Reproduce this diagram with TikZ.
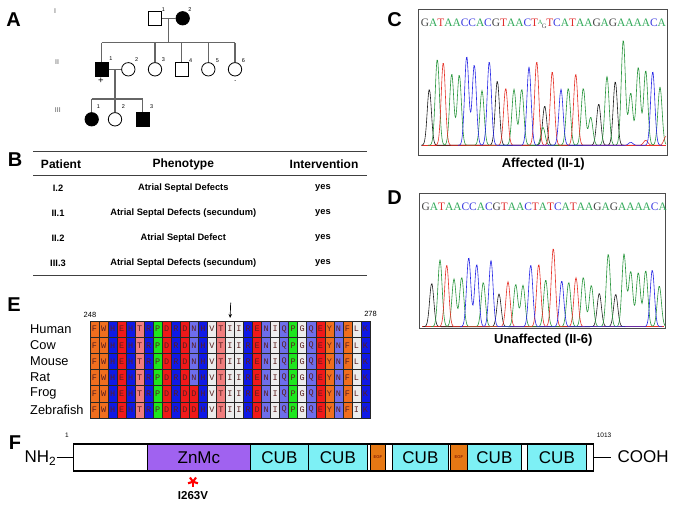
\documentclass[tikz,border=0pt]{standalone}
\usepackage{fontspec}
\setmainfont{Liberation Sans}
\newfontfamily\seqfont{Liberation Serif}
\newfontfamily\aafont{Liberation Mono}
\usetikzlibrary{arrows.meta}
\newcommand\myfs[1]{\fontsize{#1}{#1}\selectfont}
% amino-acid colours
\definecolor{aaorange}{RGB}{240,110,30}
\definecolor{aablue}{RGB}{15,25,230}
\definecolor{aared}{RGB}{240,25,25}
\definecolor{aasalmon}{RGB}{240,125,125}
\definecolor{aagreen}{RGB}{30,230,30}
\definecolor{aaperi}{RGB}{110,110,235}
\definecolor{aawhite}{RGB}{236,236,236}
\colorlet{aaF}{aaorange}\colorlet{aaW}{aaorange}\colorlet{aaY}{aaorange}
\colorlet{aaH}{aablue}\colorlet{aaR}{aablue}\colorlet{aaK}{aablue}
\colorlet{aaE}{aared}\colorlet{aaD}{aared}
\colorlet{aaT}{aasalmon}
\colorlet{aaP}{aagreen}
\colorlet{aaN}{aaperi}\colorlet{aaQ}{aaperi}
\colorlet{aaV}{aawhite}\colorlet{aaI}{aawhite}\colorlet{aaL}{aawhite}\colorlet{aaG}{aawhite}
\definecolor{aatext}{RGB}{90,30,30}
% sequence colours
\definecolor{seqA}{RGB}{50,170,90}
\definecolor{seqT}{RGB}{225,45,45}
\definecolor{seqC}{RGB}{60,60,225}
\definecolor{seqG}{RGB}{70,70,70}
\definecolor{trG}{RGB}{40,150,60}
\definecolor{trR}{RGB}{230,50,40}
\definecolor{trB}{RGB}{40,40,230}
\definecolor{trK}{RGB}{30,30,30}
\newcommand\ntA{\textcolor{seqA}{A}}
\newcommand\ntT{\textcolor{seqT}{T}}
\newcommand\ntC{\textcolor{seqC}{C}}
\newcommand\ntG{\textcolor{seqG}{G}}
\newcommand\ntmix{\makebox[8.2pt][c]{\raisebox{2.6pt}{\myfs{6.5}\textcolor{seqA}{A}}\kern-0.6pt\raisebox{-1.6pt}{\myfs{6.5}\textcolor{seqG}{G}}}}
% domain colours
\definecolor{znmc}{RGB}{160,98,240}
\definecolor{cub}{RGB}{125,240,245}
\definecolor{egf}{RGB}{230,120,20}
\begin{document}
\begin{tikzpicture}[x=1pt,y=-1pt,
  declare function={pk(\t,\c,\h)=\h*exp(-pow(min(abs(\t-\c),12),2)/8.8);},
  panel/.style={font=\myfs{20}\bfseries, inner sep=0},
  ped/.style={draw=black, line width=0.8pt, inner sep=0, fill=white},
  sq/.style={ped, rectangle, minimum size=13.3},
  ci/.style={ped, circle, minimum size=13.4},
  aff/.style={fill=black},
  pline/.style={draw=black!60, line width=1.1pt},
  plab/.style={font=\myfs{5.5}, inner sep=0},
  gen/.style={font=\myfs{7}, inner sep=0, text=black!65},
  rule/.style={draw=black!75, line width=0.9pt},
  thead/.style={font=\myfs{12}\bfseries, inner sep=0},
  tcell/.style={font=\myfs{9.3}\bfseries, inner sep=0},
  chrom/.style={draw=black!70, line width=0.9pt, inner sep=0, fill=white},
  trace/.style={line width=0.6pt},
  caption/.style={font=\myfs{13}\bfseries, inner sep=0},
  species/.style={font=\myfs{12.8}, inner sep=0, anchor=west},
  cell/.style={draw=black!85, line width=0.6pt, inner sep=0, minimum width=9.032, minimum height=16.17, font=\aafont\myfs{8.5}, text=aatext},
  poslab/.style={font=\myfs{7.5}, inner sep=0},
  dom/.style={draw=black, line width=0.8pt, inner sep=0, minimum height=27, anchor=west, font=\myfs{17}},
  egfbox/.style={dom, fill=egf, font=\myfs{4.2}, text=black!60!red}
]
\useasboundingbox (0,0) rectangle (676,505);
\fill[white] (0,0) rectangle (676,505);

% ================= Panel A: pedigree =================
\node[panel] (labA) at (13.5,20) {A};
\node[gen] (genI) at (55,11) {I};
\node[gen] (genII) at (57,62) {II};
\node[gen] (genIII) at (57.8,110) {III};

\coordinate (m1) at (168.3,18.3);
\coordinate (s1) at (168.3,42.7);
\coordinate (s1L) at (101.7,42.7);
\coordinate (s1R) at (235,42.7);
\coordinate (m2) at (115,69.3);
\coordinate (s2) at (115,99);
\coordinate (s2L) at (91.7,99);
\coordinate (s2R) at (142.7,99);

\node[sq] (I1) at (155,18.3) {};
\node[ci,aff] (I2) at (182.7,18.3) {};
\node[sq,aff] (II1) at (101.7,69.3) {};
\node[ci] (II2) at (128.3,69.3) {};
\node[ci] (II3) at (155,69.3) {};
\node[sq] (II4) at (181.7,69.3) {};
\node[ci] (II5) at (208.3,69.3) {};
\node[ci] (II6) at (235,69.3) {};
\node[ci,aff] (III1) at (91.7,119.3) {};
\node[ci] (III2) at (115,119.3) {};
\node[sq,aff] (III3) at (142.7,119.3) {};

\draw[pline] (I1.east) -- (I2.west);
\draw[pline] (m1) -- (s1);
\draw[pline] (s1L) -- (s1R);
\draw[pline] (s1L) -- (II1.north);
\draw[pline] (II3.north |- s1L) -- (II3.north);
\draw[pline] (II4.north |- s1L) -- (II4.north);
\draw[pline] (II5.north |- s1L) -- (II5.north);
\draw[pline] (s1R) -- (II6.north);
\draw[pline] (II1.east) -- (II2.west);
\draw[pline] (m2) -- (s2);
\draw[pline] (s2L) -- (s2R);
\draw[pline] (s2L) -- (III1.north);
\draw[pline] (s2) -- (III2.north);
\draw[pline] (s2R) -- (III3.north);

\node[plab] (nI1) at (163.3,10) {1};
\node[plab] (nI2) at (190,9.3) {2};
\node[plab] (nII1) at (111,58.5) {1};
\node[plab] (nII2) at (136.7,60) {2};
\node[plab] (nII3) at (163.3,60) {3};
\node[plab] (nII4) at (190.7,60.5) {4};
\node[plab] (nII5) at (217.3,60.5) {5};
\node[plab] (nII6) at (243.3,60.5) {6};
\node[plab] (nIII1) at (98.5,106.5) {1};
\node[plab] (nIII2) at (123.3,106.5) {2};
\node[plab] (nIII3) at (151.7,106.5) {3};
\node[font=\myfs{9.5}, inner sep=0] (plus) at (101,80.7) {+};
\node[font=\myfs{6}, inner sep=0] (minus) at (235.3,81.5) {-};

% ================= Panel B: table =================
\node[panel] (labB) at (15,159.5) {B};
\draw[rule] (33,151) -- (367,151);
\draw[rule] (33,175) -- (367,175);
\draw[rule] (33,275) -- (367,275);
\node[thead] (hP) at (61,164) {Patient};
\node[thead] (hPh) at (183.3,164) {Phenotype};
\node[thead] (hI) at (324,164) {Intervention};
\node[tcell] (p1) at (58,188.3) {I.2};
\node[tcell] (f1) at (183.3,188.3) {Atrial Septal Defects};
\node[tcell] (y1) at (323,188.3) {yes};
\node[tcell] (p2) at (58,213) {II.1};
\node[tcell] (f2) at (183.3,213) {Atrial Septal Defects (secundum)};
\node[tcell] (y2) at (323,213) {yes};
\node[tcell] (p3) at (58,238) {II.2};
\node[tcell] (f3) at (183.3,238) {Atrial Septal Defect};
\node[tcell] (y3) at (323,238) {yes};
\node[tcell] (p4) at (58,263) {III.3};
\node[tcell] (f4) at (183.3,263) {Atrial Septal Defects (secundum)};
\node[tcell] (y4) at (323,263) {yes};

% ================= Panel C =================
\node[panel] (labC) at (394.5,19.5) {C};
\node[chrom, minimum width=249, minimum height=145.7] (boxC) at (542.8,82.15) {};
\node[font=\seqfont\myfs{11.4}, inner sep=0, anchor=base west] (seqC) at (420.7,26.7)
 {\ntG\ntA\ntT\ntA\ntA\ntC\ntC\ntA\ntC\ntG\ntT\ntA\ntA\ntC\ntT\ntmix\ntT\ntC\ntA\ntT\ntA\ntA\ntG\ntA\ntG\ntA\ntA\ntA\ntA\ntC\ntA};
\draw[trace, trR] (422,145.3) -- (666,145.3);
\draw[trace, trK] plot[smooth, domain=421:624, samples=204]
 (\x,{145.3-(pk(\x,429.3,56)+pk(\x,497.3,64.3)+pk(\x,544.7,39.3)+pk(\x,598.7,41.3)+pk(\x,615.3,63.7))});
\draw[trace, trG] plot[smooth, domain=428:666, samples=239]
 (\x,{145.3-(pk(\x,437.3,86)+pk(\x,451.7,71.3)+pk(\x,459.3,70.3)+pk(\x,482,54.7)+pk(\x,514,56)+pk(\x,521.7,56)+pk(\x,543,18)+pk(\x,568.3,57)+pk(\x,583.3,57)+pk(\x,590.7,28)+pk(\x,607,68.7)+pk(\x,623.3,105.3)+pk(\x,630.7,52)+pk(\x,638.3,78)+pk(\x,645.7,74.7)+pk(\x,660,58))});
\draw[trace, trR] plot[smooth, domain=434:666, samples=233]
 (\x,{145.3-(pk(\x,443.3,82.7)+pk(\x,505.7,57)+pk(\x,536.7,83.7)+pk(\x,552.3,73.7)+pk(\x,575.7,71.3)+pk(\x,645.7,5)+pk(\x,666,9))});
\draw[trace, trB] plot[smooth, domain=458:662, samples=205]
 (\x,{145.3-(pk(\x,466.7,88.7)+pk(\x,474.3,80.3)+pk(\x,489.3,83.7)+pk(\x,529,78)+pk(\x,561,56)+pk(\x,630.7,3)+pk(\x,652.7,73.7))});
\node[caption] (capC) at (543.3,163.8) {Affected (II-1)};

% ================= Panel D =================
\node[panel] (labD) at (394.5,197.5) {D};
\node[chrom, minimum width=245.7, minimum height=135] (boxD) at (542.15,260.8) {};
\node[font=\seqfont\myfs{11.4}, inner sep=0, anchor=base west] (seqD) at (421.5,210.7)
 {\ntG\ntA\ntT\ntA\ntA\ntC\ntC\ntA\ntC\ntG\ntT\ntA\ntA\ntC\ntT\ntA\ntT\ntC\ntA\ntT\ntA\ntA\ntG\ntA\ntG\ntA\ntA\ntA\ntA\ntC\ntA};
\draw[trace, trR] (422,326.7) -- (664,326.7);
\draw[trace, trK] plot[smooth, domain=423:625, samples=203]
 (\x,{326.7-(pk(\x,431.7,43.3)+pk(\x,499,32.7)+pk(\x,599.3,33.3)+pk(\x,615.7,32.3))});
\draw[trace, trG] plot[smooth, domain=431:665, samples=235]
 (\x,{326.7-(pk(\x,440,66.7)+pk(\x,454,47.7)+pk(\x,461.7,49.3)+pk(\x,483.3,44.3)+pk(\x,515.7,42.3)+pk(\x,523,41.3)+pk(\x,545.7,46.7)+pk(\x,568.7,44.3)+pk(\x,583.3,49.3)+pk(\x,591.3,41.3)+pk(\x,608.3,72.7)+pk(\x,624,72.3)+pk(\x,630.7,55)+pk(\x,638.3,54)+pk(\x,645.7,56)+pk(\x,659.3,40.7))});
\draw[trace, trR] plot[smooth, domain=438:585, samples=148]
 (\x,{326.7-(pk(\x,446.7,61.7)+pk(\x,508,45)+pk(\x,538.7,62.3)+pk(\x,553.3,78.3)+pk(\x,576,49))});
\draw[trace, trB] plot[smooth, domain=460:662, samples=203]
 (\x,{326.7-(pk(\x,468.7,69)+pk(\x,476.7,62.3)+pk(\x,491,66)+pk(\x,530.7,61.7)+pk(\x,561.7,45.7)+pk(\x,652.3,56.7))});
\node[caption] (capD) at (543.3,340.5) {Unaffected (II-6)};

% ================= Panel E: alignment =================
\node[panel] (labE) at (14,305) {E};
\node[species] (spHuman) at (30,329.1) {Human};
\node[species] (spCow) at (30,345.3) {Cow};
\node[species] (spMouse) at (30,361.4) {Mouse};
\node[species] (spRat) at (30,377.6) {Rat};
\node[species] (spFrog) at (30,393.8) {Frog};
\node[species] (spFish) at (30,409.9) {Zebrafish};
\foreach \seqrow [count=\r] in {
 {F,W,H,E,H,T,R,P,D,R,D,N,H,V,T,I,I,R,E,N,I,Q,P,G,Q,E,Y,N,F,L,K},
 {F,W,H,E,H,T,R,P,D,R,D,N,H,V,T,I,I,R,E,N,I,Q,P,G,Q,E,Y,N,F,L,K},
 {F,W,H,E,H,T,R,P,D,R,D,N,H,V,T,I,I,R,E,N,I,Q,P,G,Q,E,Y,N,F,L,K},
 {F,W,H,E,H,T,R,P,D,R,D,N,H,V,T,I,I,R,E,N,I,Q,P,G,Q,E,Y,N,F,L,K},
 {F,W,H,E,H,T,R,P,D,R,D,D,H,V,T,I,I,R,E,N,I,Q,P,G,Q,E,Y,N,F,L,K},
 {F,W,H,E,H,T,R,P,D,R,D,D,H,V,T,I,I,R,D,N,I,Q,P,G,Q,E,Y,N,F,I,K}} {
  \foreach \aa [count=\c] in \seqrow {
    \node[cell, fill=aa\aa] (aa\r-\c) at ({90+(\c-0.5)*9.032},{321+(\r-0.5)*16.17}) {\aa};
  }
}
\node[poslab] (p248) at (90,314.5) {248};
\node[poslab] (p278) at (370.5,313.7) {278};
\coordinate (arrTop) at (230.7,302.7);
\draw[-{Stealth[length=4pt,width=3.5pt]}, line width=0.7pt, shorten >=2.7pt] (arrTop) -- (aa1-16.north);

% ================= Panel F: domains =================
\node[panel] (labF) at (15,443) {F};
\node[dom, fill=white, minimum width=74] (dN) at (73,457.5) {};
\node[dom, fill=znmc, minimum width=103] (dZn) at (147,457.5) {ZnMc};
\node[dom, fill=cub, minimum width=58] (dC1) at (250,457.5) {CUB};
\node[dom, fill=cub, minimum width=59] (dC2) at (308,457.5) {CUB};
\node[dom, fill=white, minimum width=3] (g1) at (367,457.5) {};
\node[egfbox, minimum width=15] (e1) at (370,457.5) {EGF};
\node[dom, fill=white, minimum width=7] (g2) at (385,457.5) {};
\node[dom, fill=cub, minimum width=56] (dC3) at (392,457.5) {CUB};
\node[dom, fill=white, minimum width=2] (g3) at (448,457.5) {};
\node[egfbox, minimum width=17] (e2) at (450,457.5) {EGF};
\node[dom, fill=cub, minimum width=54] (dC4) at (467,457.5) {CUB};
\node[dom, fill=white, minimum width=6] (g4) at (521,457.5) {};
\node[dom, fill=cub, minimum width=59] (dC5) at (527,457.5) {CUB};
\node[dom, fill=white, minimum width=7] (g5) at (586,457.5) {};
\node[draw=black, line width=1.4pt, minimum width=520, minimum height=27, inner sep=0, anchor=west] (protein) at (73,457.5) {};
\node[font=\myfs{17}, inner sep=0, anchor=base east] (nh2) at (56.5,462.7) {NH\textsubscript{2}};
\node[font=\myfs{17}, inner sep=0, anchor=base west] (cooh) at (617.5,462.7) {COOH};
\draw[line width=1.1pt] (protein.west -| nh2.east) -- (protein.west);
\draw[line width=1.1pt, shorten >=6.5pt] (protein.east) -- (protein.east -| cooh.west);
\node[poslab, font=\myfs{6.5}] (n1) at (67,435) {1};
\node[poslab, font=\myfs{6.5}] (n1013) at (604,435) {1013};
\coordinate (ast) at (193,481.7);
\foreach \ang in {90,18,162,-54,234} {
  \draw[red, line width=2.1pt] (ast) -- ++(\ang:5.2);
}
\node[font=\myfs{11.5}\bfseries, inner sep=0] (mut) at (193,495.3) {I263V};
\end{tikzpicture}
\end{document}
